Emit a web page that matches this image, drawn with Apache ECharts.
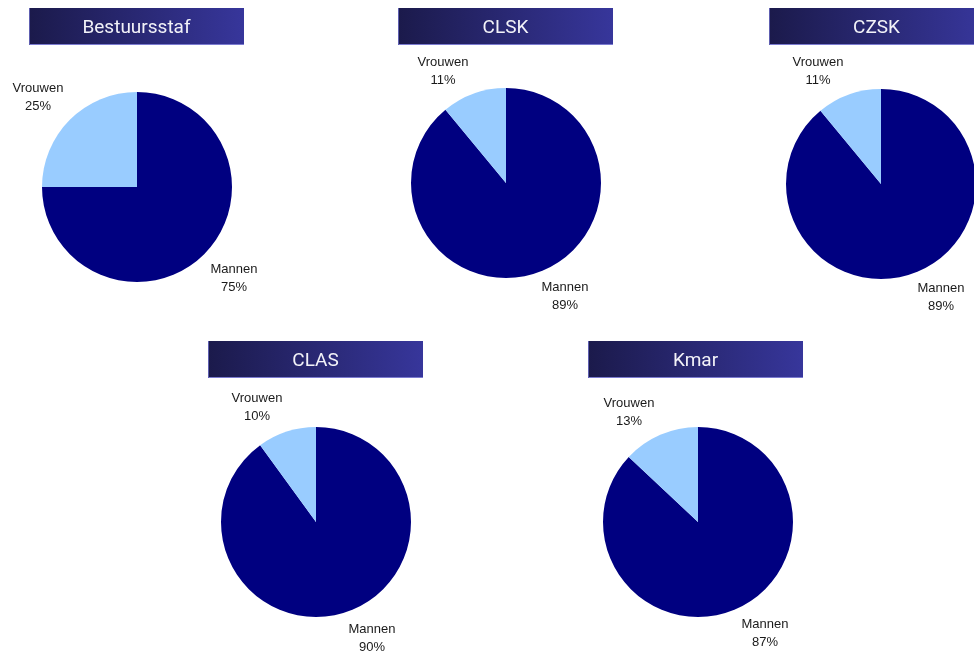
<!DOCTYPE html>
<html>
<head>
<meta charset="utf-8">
<script src="https://cdn.jsdelivr.net/npm/echarts@6/dist/echarts.min.js"></script>
<style>
html,body{margin:0;padding:0;background:#fff;}
#chart{width:974px;height:655px;}
</style>
</head>
<body>
<div id="chart"></div>
<script>
// Data
var panels = ['Bestuursstaf', 'CLSK', 'CZSK', 'CLAS', 'Kmar'];
var categories = ['Mannen', 'Vrouwen'];
var mannen = [75, 89, 89, 90, 87];
var vrouwen = [25, 11, 11, 10, 13];

// Layout (positions only)
var pieCenters = [[137, 187], [506, 183], [881, 184], [316, 522], [698, 522]];
var pieRadius = 95;
var titleBoxes = [[29, 8], [398, 8], [769, 8], [208, 341], [588, 341]];
var boxW = 215, boxH = 37;
var labelPos = [
  [[234, 278], [38, 97]],
  [[565, 296], [443, 71]],
  [[941, 297], [818, 71]],
  [[372, 638], [257, 407]],
  [[765, 633], [629, 412]]
];
var colors = ['#000080', '#99CCFF'];

var chart = echarts.init(document.getElementById('chart'), null, {renderer: 'canvas'});

var series = panels.map(function (name, i) {
  return {
    type: 'pie',
    name: name,
    center: pieCenters[i],
    radius: pieRadius,
    startAngle: 90,
    clockwise: true,
    silent: true,
    animation: false,
    avoidLabelOverlap: false,
    itemStyle: {borderWidth: 0},
    label: {
      show: true,
      position: 'outside',
      formatter: '{b}\n{c}%',
      fontFamily: 'Liberation Sans, Arial, sans-serif',
      fontSize: 13,
      lineHeight: 18,
      color: '#1a1a1a',
      align: 'center',
      overflow: 'none',
      width: 80
    },
    labelLine: {show: false},
    labelLayout: function (params) {
      var p = labelPos[params.seriesIndex][params.dataIndex];
      return {x: p[0], y: p[1], align: 'center', verticalAlign: 'middle', moveOverlap: false, hideOverlap: false};
    },
    data: categories.map(function (c, k) {
      return {name: c, value: k === 0 ? mannen[i] : vrouwen[i], itemStyle: {color: colors[k]}};
    })
  };
});

var graphics = [];
panels.forEach(function (name, i) {
  var b = titleBoxes[i];
  graphics.push({
    type: 'group',
    x: b[0], y: b[1],
    silent: true,
    children: [
      {
        type: 'rect',
        shape: {x: 0, y: 0, width: boxW, height: boxH},
        style: {
          fill: new echarts.graphic.LinearGradient(0, 0, 1, 0, [
            {offset: 0, color: '#1b1a4b'},
            {offset: 1, color: '#37369b'}
          ]),
          stroke: null
        }
      },
      {
        type: 'line',
        shape: {x1: 0, y1: boxH - 0.5, x2: boxW, y2: boxH - 0.5},
        style: {stroke: '#7b7bd0', lineWidth: 1}
      },
      {
        type: 'line',
        shape: {x1: 0.5, y1: 0, x2: 0.5, y2: boxH},
        style: {stroke: '#5e5eb0', lineWidth: 1}
      },
      {
        type: 'text',
        x: boxW / 2, y: boxH / 2 + 1.5,
        style: {
          text: name,
          fill: '#f2f2f8',
          font: '19px Roboto, "Noto Sans", sans-serif',
          textAlign: 'center',
          textVerticalAlign: 'middle'
        }
      }
    ]
  });
});

chart.setOption({
  animation: false,
  series: series,
  graphic: graphics
});
</script>
</body>
</html>
